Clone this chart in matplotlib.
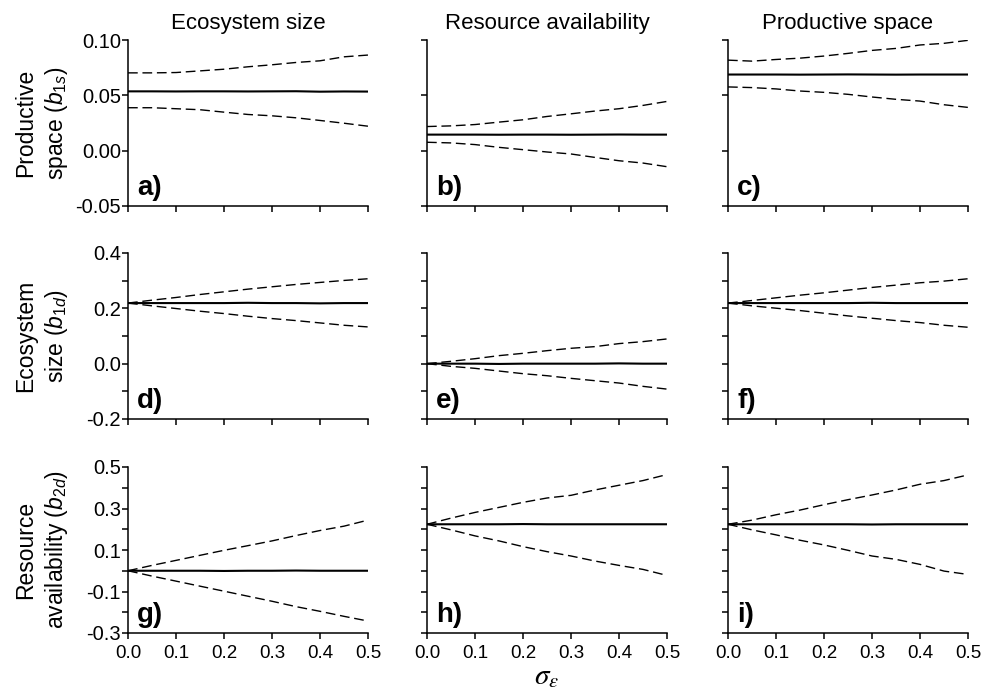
import matplotlib
matplotlib.use('Agg')
import matplotlib.pyplot as plt
import numpy as np

plt.rcParams['font.family'] = ['Liberation Sans', 'DejaVu Sans']
plt.rcParams['mathtext.fontset'] = 'custom'
plt.rcParams['mathtext.rm'] = 'Liberation Sans'
plt.rcParams['mathtext.it'] = 'Liberation Sans:italic'

# sigma_epsilon grid
sigma = [0.0, 0.05, 0.1, 0.15, 0.2, 0.25, 0.3, 0.35, 0.4, 0.45, 0.5]

col_titles = ['Ecosystem size', 'Resource availability', 'Productive space']
row_labels = ['Productive\nspace ($b_{1s}$)',
              'Ecosystem\nsize ($b_{1d}$)',
              'Resource\navailability ($b_{2d}$)']
panel_tags = ['a)', 'b)', 'c)', 'd)', 'e)', 'f)', 'g)', 'h)', 'i)']

# row 1: b1s
a_mid = [0.0536, 0.0536, 0.0535, 0.0536, 0.0536, 0.0535, 0.0536, 0.0537, 0.0533, 0.0535, 0.0534]
a_up = [0.0703, 0.0703, 0.0706, 0.0721, 0.0736, 0.0758, 0.0776, 0.0797, 0.0812, 0.0848, 0.0864]
a_lo = [0.0388, 0.0388, 0.0379, 0.0370, 0.0348, 0.0327, 0.0315, 0.0297, 0.0273, 0.0248, 0.0221]
b_mid = [0.0145, 0.0145, 0.0145, 0.0144, 0.0145, 0.0145, 0.0144, 0.0145, 0.0146, 0.0145, 0.0145]
b_up = [0.0218, 0.0224, 0.0236, 0.0258, 0.0279, 0.0309, 0.0333, 0.0358, 0.0379, 0.0409, 0.0445]
b_lo = [0.0076, 0.0070, 0.0055, 0.0030, 0.0009, -0.0012, -0.0030, -0.0061, -0.0091, -0.0112, -0.0145]
c_mid = [0.0688, 0.0688, 0.0688, 0.0687, 0.0688, 0.0689, 0.0688, 0.0687, 0.0688, 0.0688, 0.0688]
c_up = [0.0818, 0.0809, 0.0824, 0.0836, 0.0855, 0.0879, 0.0906, 0.0924, 0.0955, 0.0970, 0.0997]
c_lo = [0.0576, 0.0570, 0.0558, 0.0539, 0.0527, 0.0509, 0.0485, 0.0464, 0.0448, 0.0415, 0.0391]

# row 2: b1d
d_mid = [0.219, 0.219, 0.219, 0.219, 0.219, 0.220, 0.219, 0.219, 0.218, 0.219, 0.219]
d_up = [0.219, 0.2295, 0.2392, 0.250, 0.2597, 0.2694, 0.2779, 0.2863, 0.2936, 0.3008, 0.3069]
d_lo = [0.219, 0.209, 0.1993, 0.1896, 0.1811, 0.1715, 0.163, 0.1557, 0.1473, 0.1388, 0.1328]
e_mid = [0.0, 0.0, 0.0, -0.001, 0.0, 0.0, 0.0, 0.0, 0.001, 0.0, 0.0]
e_up = [0.0, 0.0085, 0.018, 0.029, 0.0374, 0.047, 0.0556, 0.0616, 0.0725, 0.0797, 0.0894]
e_lo = [0.0, -0.0097, -0.0169, -0.0266, -0.0362, -0.0435, -0.0531, -0.0616, -0.070, -0.082, -0.092]
f_mid = [0.219, 0.219, 0.219, 0.219, 0.219, 0.219, 0.220, 0.219, 0.219, 0.219, 0.219]
f_up = [0.219, 0.2283, 0.238, 0.2476, 0.2561, 0.2658, 0.2755, 0.2839, 0.2924, 0.2984, 0.3069]
f_lo = [0.219, 0.209, 0.2005, 0.192, 0.1823, 0.1727, 0.1642, 0.1557, 0.1485, 0.1388, 0.1316]

# row 3: b2d
g_mid = [0.0, 0.0, 0.0, 0.0, -0.001, 0.0, 0.0, 0.001, 0.0, 0.0, 0.0]
g_up = [0.0, 0.0258, 0.050, 0.0743, 0.0985, 0.121, 0.1438, 0.1696, 0.1939, 0.2149, 0.244]
g_lo = [0.0, -0.0258, -0.050, -0.0743, -0.0985, -0.1228, -0.147, -0.1729, -0.1955, -0.2197, -0.2423]
h_mid = [0.224, 0.224, 0.224, 0.224, 0.225, 0.224, 0.224, 0.224, 0.224, 0.224, 0.224]
h_up = [0.224, 0.2536, 0.2811, 0.3053, 0.3296, 0.3506, 0.3635, 0.3893, 0.412, 0.4346, 0.4637]
h_lo = [0.224, 0.1971, 0.168, 0.1438, 0.1163, 0.0921, 0.0711, 0.0468, 0.0258, 0.0065, -0.0226]
i_mid = [0.224, 0.224, 0.224, 0.224, 0.224, 0.224, 0.223, 0.224, 0.224, 0.224, 0.224]
i_up = [0.224, 0.2439, 0.2698, 0.2924, 0.3183, 0.3425, 0.3651, 0.3893, 0.4168, 0.4346, 0.462]
i_lo = [0.224, 0.1971, 0.1729, 0.147, 0.1244, 0.0985, 0.0711, 0.0549, 0.0307, -0.0016, -0.0178]

panels = [(a_mid, a_up, a_lo), (b_mid, b_up, b_lo), (c_mid, c_up, c_lo),
          (d_mid, d_up, d_lo), (e_mid, e_up, e_lo), (f_mid, f_up, f_lo),
          (g_mid, g_up, g_lo), (h_mid, h_up, h_lo), (i_mid, i_up, i_lo)]

# per-row y axis setup: limits, ticks, labelled ticks
row_ylim = [(-0.05, 0.10), (-0.2, 0.4), (-0.3, 0.5)]
row_ticks = [[-0.05, 0.0, 0.05, 0.10],
             [-0.2, -0.1, 0.0, 0.1, 0.2, 0.3, 0.4],
             [-0.3, -0.2, -0.1, 0.0, 0.1, 0.2, 0.3, 0.4, 0.5]]
row_ticklabels = [['-0.05', '0.00', '0.05', '0.10'],
                  ['-0.2', '', '0.0', '', '0.2', '', '0.4'],
                  ['-0.3', '', '-0.1', '', '0.1', '', '0.3', '', '0.5']]
x_ticks = [0.0, 0.1, 0.2, 0.3, 0.4, 0.5]
x_ticklabels = ['0.0', '0.1', '0.2', '0.3', '0.4', '0.5']

W, H = 992, 690
fig = plt.figure(figsize=(W / 100, H / 100), dpi=100)

lefts = [128, 427, 728]
tops = [40, 253, 467]
pw, ph = 240, 166

for r in range(3):
    for c in range(3):
        k = r * 3 + c
        ax = fig.add_axes([lefts[c] / W, 1 - (tops[r] + ph) / H, pw / W, ph / H])
        mid, up, lo = panels[k]
        ax.plot(sigma, mid, color='black', lw=1.5)
        ax.plot(sigma, up, color='black', lw=1.0, dashes=(7, 3.4))
        ax.plot(sigma, lo, color='black', lw=1.0, dashes=(7, 3.4))

        ax.set_xlim(0, 0.5)
        ax.set_ylim(*row_ylim[r])
        ax.set_xticks(x_ticks)
        ax.set_yticks(row_ticks[r])
        if c == 0:
            ax.set_yticklabels(row_ticklabels[r])
        else:
            ax.set_yticklabels([])
        if r == 2:
            ax.set_xticklabels(x_ticklabels)
        else:
            ax.set_xticklabels([])

        for s in ['top', 'right']:
            ax.spines[s].set_visible(False)
        for s in ['left', 'bottom']:
            ax.spines[s].set_linewidth(1.1)
        ax.tick_params(direction='out', length=4, width=1.1)
        ax.tick_params(axis='y', labelsize=14.5, pad=1)
        ax.tick_params(axis='x', labelsize=13.5, pad=5)

        ax.text(0.038, 0.03, panel_tags[k], transform=ax.transAxes,
                fontsize=20, fontweight='bold', ha='left', va='bottom')

        if r == 0:
            ax.set_title(col_titles[c], fontsize=16, pad=8)

    fig.text(42 / W, 1 - (tops[r] + ph / 2) / H, row_labels[r], rotation=90,
             ha='center', va='center', multialignment='center', fontsize=16.5,
             linespacing=1.3)

fig.text((427 + pw / 2) / W, 1 - 676 / H, r'$\sigma_\varepsilon$', fontsize=21,
         ha='center', va='center', math_fontfamily='stix')

fig.savefig('out.png', dpi=100)
